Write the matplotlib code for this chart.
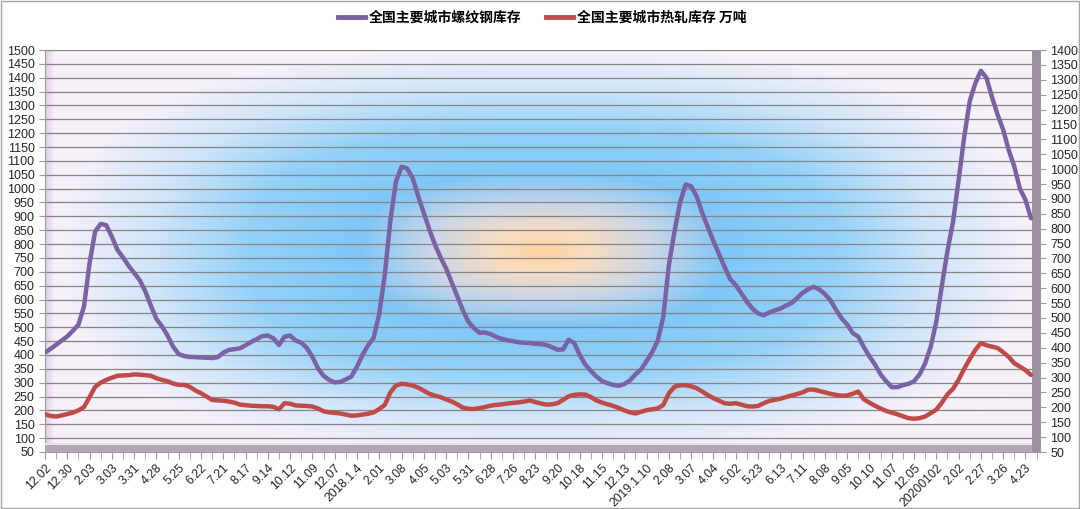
import matplotlib.pyplot as plt
import numpy as np
from matplotlib.lines import Line2D
from matplotlib.patches import Rectangle
from matplotlib.font_manager import FontProperties

# 数据：每周一个点，单位万吨
rebar = [409, 422, 437, 452, 467, 487, 509, 575, 731, 845,
         873, 868, 827, 779, 752, 722, 696, 670, 630, 578,
         530, 503, 470, 430, 403, 396, 393, 392, 391, 390,
         389, 392, 408, 418, 421, 424, 435, 447, 457, 468,
         470, 460, 436, 466, 470, 452, 444, 425, 393, 352,
         325, 310, 301, 303, 312, 322, 358, 400, 435, 462,
         548, 690, 885, 1025, 1079, 1073, 1038, 972, 912, 852,
         798, 752, 712, 662, 612, 562, 520, 497, 480, 481,
         475, 465, 458, 453, 450, 446, 444, 443, 440, 439,
         436, 428, 419, 420, 455, 443, 400, 365, 342, 322,
         306, 298, 292, 289, 295, 308, 330, 348, 378, 410,
         452, 539, 725, 845, 950, 1015, 1008, 971, 911, 861,
         810, 764, 717, 674, 652, 622, 592, 567, 550, 543,
         553, 561, 567, 578, 587, 605, 624, 637, 646, 636,
         620, 597, 563, 532, 510, 479, 466, 428, 395, 365,
         330, 305, 284, 284, 291, 296, 305, 330, 370, 430,
         520, 650, 775, 880, 1030, 1185, 1315, 1380, 1425, 1400,
         1330, 1267, 1213, 1139, 1080, 1000, 960, 893]

hrc = [186, 180, 178, 182, 187, 192, 200, 212, 248, 285,
       300, 310, 318, 325, 326, 327, 330, 329, 327, 325,
       316, 310, 305, 297, 292, 292, 285, 272, 262, 250,
       238, 236, 235, 232, 228, 221, 219, 217, 216, 215,
       215, 213, 204, 226, 224, 218, 217, 216, 214, 207,
       197, 193, 191, 189, 185, 181, 182, 185, 188, 193,
       205, 220, 265, 290, 296, 294, 290, 282, 271, 260,
       253, 248, 240, 232, 222, 210, 206, 205, 208, 212,
       217, 220, 222, 225, 227, 229, 232, 236, 230, 225,
       221, 222, 226, 238, 251, 256, 258, 257, 248, 236,
       228, 222, 216, 209, 200, 193, 189, 195, 201, 204,
       207, 220, 262, 285, 291, 291, 287, 280, 268, 255,
       244, 235, 226, 224, 226, 221, 215, 214, 216, 226,
       234, 238, 242, 248, 254, 259, 265, 275, 275, 270,
       265, 260, 256, 253, 254, 260, 268, 240, 228, 217,
       207, 198, 192, 186, 179, 172, 170, 172, 178, 190,
       203, 228, 258, 278, 310, 350, 385, 418, 443, 435,
       430, 425, 410, 393, 370, 358, 345, 328]

date_labels = ['12.02', '12.30', '2.03', '3.03', '3.31', '4.28', '5.25', '6.22',
               '7.21', '8.17', '9.14', '10.12', '11.09', '12.07', '2018.1.4',
               '2.01', '3.08', '4.05', '5.03', '5.31', '6.28', '7.26', '8.23',
               '9.20', '10.18', '11.15', '12.13', '2019.1.10', '2.08', '3.07',
               '4.04', '5.02', '5.23', '6.13', '7.11', '8.08', '9.05', '10.10',
               '11.07', '12.05', '20200102', '2.02', '2.27', '3.26', '4.23']

left_ticks = list(range(50, 1501, 50))
right_ticks = list(range(50, 1401, 50))

rebar_name = '全国主要城市螺纹钢库存'
hrc_name = '全国主要城市热轧库存 万吨'
rebar_color = '#7B62A5'
hrc_color = '#BE4B48'


def background(w, h):
    """仿 Excel 的中心渐变填充：中心橙色 -> 蓝色 -> 边缘淡粉白"""
    u, v = np.meshgrid(np.linspace(-1, 1, w), np.linspace(-1, 1, h))
    d = (np.abs(u * 0.93) ** 2.6 + np.abs(v * 0.9) ** 2.6) ** (1 / 2.6)
    stops = [0.0, 0.09, 0.2, 0.34, 0.55, 0.72, 0.9, 1.5]
    cols = np.array([[255, 212, 160], [248, 220, 192], [205, 215, 230],
                     [128, 199, 247], [148, 209, 248], [205, 228, 250],
                     [246, 240, 250], [252, 240, 250]]) / 255.0
    img = np.zeros((h, w, 3))
    for c in range(3):
        img[..., c] = np.interp(d, stops, cols[:, c])
    # 左侧墙面的淡紫阴影
    wall = np.clip(1 - np.arange(w) / 9.0, 0, 1) * 0.55
    mauve = np.array([205, 180, 210]) / 255.0
    img = img * (1 - wall[None, :, None]) + mauve * wall[None, :, None]
    return img


fig = plt.figure(figsize=(10.8, 5.09), dpi=100)
ax = fig.add_axes([45 / 1080, 1 - 452 / 509, 995 / 1080, 402 / 509])
x = np.arange(len(rebar))
x_right = (len(rebar) - 1) * 995 / 986

ax.imshow(background(995, 402), extent=(0, x_right, 50, 1500), aspect='auto',
          zorder=0, interpolation='bilinear')
ax.set_xlim(0, x_right)
ax.set_ylim(50, 1500)

ax.plot(x, rebar, color=rebar_color, lw=3.2, zorder=4,
        solid_joinstyle='round', solid_capstyle='round')
ax.plot(x, hrc, color=hrc_color, lw=3.2, zorder=4,
        solid_joinstyle='round', solid_capstyle='round')

ax.set_yticks(left_ticks)
ax.yaxis.grid(True, color='#858585', lw=0.9)
ax.set_axisbelow(True)

label_pos = np.arange(0, len(rebar), 4)[:len(date_labels)]
ax.set_xticks(label_pos)
ax.set_xticklabels(date_labels, rotation=45, ha='right', va='top',
                   rotation_mode='anchor', fontsize=8.8, family='Liberation Sans',
                   color='#262626')
ax.set_xticks(label_pos + 2, minor=True)
ax.tick_params(axis='x', which='both', length=5, color='#9A9A9A', pad=2)
ax.tick_params(axis='y', length=4, color='#9A9A9A', labelsize=9,
               labelcolor='#262626')
for t in ax.get_yticklabels():
    t.set_family('Liberation Sans')

for s in ['top', 'right']:
    ax.spines[s].set_visible(False)
for s in ['left', 'bottom']:
    ax.spines[s].set_color('#9A9A9A')

# 立体效果：底面和右侧厚度
ax.add_patch(Rectangle((0, 0), 1, 0.018, transform=ax.transAxes,
                       fc='#B3A6B6', ec='none', zorder=3))
ax.add_patch(Rectangle((0, 0.018), 1, 0.004, transform=ax.transAxes,
                       fc='#E9E3EC', ec='none', zorder=3))
ax.add_patch(Rectangle((0.992, 0), 0.008, 1, transform=ax.transAxes,
                       fc='#9C929F', ec='none', zorder=3))

ax2 = ax.twinx()
ax2.set_ylim(50, 1400)
ax2.set_yticks(right_ticks)
ax2.tick_params(axis='y', length=4, color='#9A9A9A', labelsize=9,
                labelcolor='#262626')
for t in ax2.get_yticklabels():
    t.set_family('Liberation Sans')
for s in ['top', 'left', 'bottom']:
    ax2.spines[s].set_visible(False)
ax2.spines['right'].set_color('#9A9A9A')

handles = [Line2D([], [], color=rebar_color, lw=3.5),
           Line2D([], [], color=hrc_color, lw=3.5)]
fig.legend(handles, [rebar_name, hrc_name], loc='center',
           bbox_to_anchor=(542 / 1080, 1 - 18 / 509), ncol=2, frameon=False,
           prop=FontProperties(family='Noto Sans CJK SC', weight='bold', size=10),
           handlelength=1.95, handletextpad=0.25, columnspacing=1.8)

# 外框
fig.add_artist(Rectangle((0.001, 0.002), 0.998, 0.996, transform=fig.transFigure,
                         fill=False, ec='#A6A6A6', lw=1))

fig.savefig('out.png', dpi=100)
